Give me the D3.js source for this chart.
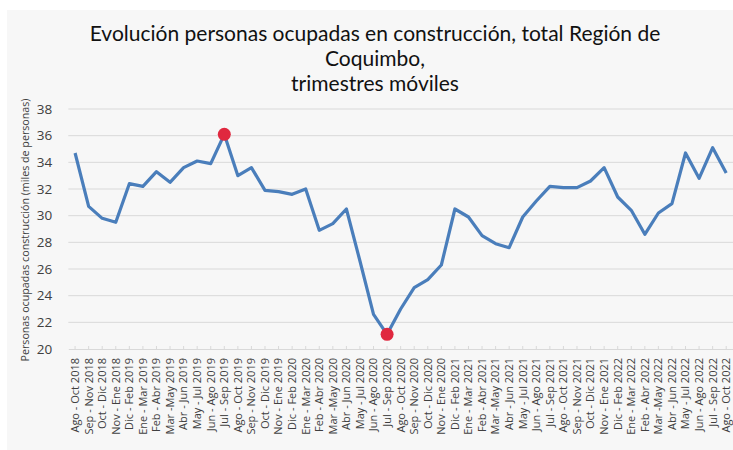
<!DOCTYPE html>
<html>
<head>
<meta charset="utf-8">
<script src="https://cdn.jsdelivr.net/npm/d3@7"></script>
<style>
  body { margin: 0; background: #fff; }
  svg { display: block; }
</style>
</head>
<body>
<svg id="chart" width="733" height="450"></svg>
<script>
// trimestres moviles
var periods = [
    "Ago - Oct 2018", "Sep - Nov 2018", "Oct - Dic 2018", "Nov - Ene 2018",
    "Dic - Feb 2019", "Ene - Mar 2019", "Feb - Abr 2019", "Mar -May 2019",
    "Abr - Jun 2019", "May - Jul 2019", "Jun - Ago 2019", "Jul - Sep 2019",
    "Ago - Oct 2019", "Sep - Nov 2019", "Oct - Dic 2019", "Nov - Ene 2019",
    "Dic - Feb 2020", "Ene - Mar 2020", "Feb - Abr 2020", "Mar -May 2020",
    "Abr - Jun 2020", "May - Jul 2020", "Jun - Ago 2020", "Jul - Sep 2020",
    "Ago - Oct 2020", "Sep - Nov 2020", "Oct - Dic 2020", "Nov - Ene 2020",
    "Dic - Feb 2021", "Ene - Mar 2021", "Feb - Abr 2021", "Mar -May 2021",
    "Abr - Jun 2021", "May - Jul 2021", "Jun - Ago 2021", "Jul - Sep 2021",
    "Ago - Oct 2021", "Sep - Nov 2021", "Oct - Dic 2021", "Nov - Ene 2021",
    "Dic - Feb 2022", "Ene - Mar 2022", "Feb - Abr 2022", "Mar -May 2022",
    "Abr - Jun 2022", "May - Jul 2022", "Jun - Ago 2022", "Jul - Sep 2022",
    "Ago - Oct 2022"
];

// miles de personas
var ocupados = [
    34.7, 30.7, 29.8, 29.5, 32.4, 32.2, 33.3, 32.5, 33.6, 34.1, 33.9, 36.1,
    33.0, 33.6, 31.9, 31.8, 31.6, 32.0, 28.9, 29.4, 30.5, 26.6, 22.6, 21.1,
    23.0, 24.6, 25.2, 26.3, 30.5, 29.9, 28.5, 27.9, 27.6, 29.9, 31.1, 32.2,
    32.1, 32.1, 32.6, 33.6, 31.4, 30.4, 28.6, 30.2, 30.9, 34.7, 32.8, 35.1,
    33.2
];

// puntos destacados (maximo y minimo)
var highlighted = ["Jul - Sep 2019", "Jul - Sep 2020"];

var yTicks = [20, 22, 24, 26, 28, 30, 32, 34, 36, 38];

var titleLines = [
    "Evolución personas ocupadas en construcción, total Región de",
    "Coquimbo,",
    "trimestres móviles"
];

var yTitle = "Personas ocupadas construcción (miles de personas)";

var svg = d3.select("#chart");
var chart_width = +svg.attr("width");
var chart_height = +svg.attr("height");

var data = periods.map(function (p, i) {
    return { period: p, value: ocupados[i] };
});

// fondo
svg.append("rect")
    .attr("x", 7)
    .attr("y", 10)
    .attr("width", chart_width - 7)
    .attr("height", chart_height - 10)
    .attr("fill", "#f7f7f7");

var x = d3.scaleBand()
    .domain(periods)
    .range([68.3, 733]);

var y = d3.scaleLinear()
    .domain([20, 38])
    .range([349, 109]);

// titulo
svg.append("g")
    .selectAll("text")
    .data(titleLines)
    .enter()
    .append("text")
    .attr("x", 375)
    .attr("y", function (d, i) { return 41 + i * 25; })
    .attr("text-anchor", "middle")
    .attr("font-family", "Lato, 'Open Sans', sans-serif")
    .attr("font-size", "21px")
    .attr("fill", "#111")
    .text(function (d) { return d; });

// grilla
svg.append("g")
    .selectAll("line")
    .data(yTicks.slice(1))
    .enter()
    .append("line")
    .attr("x1", 68.3)
    .attr("x2", chart_width)
    .attr("y1", function (d) { return y(d); })
    .attr("y2", function (d) { return y(d); })
    .attr("stroke", "#d9d9d9")
    .attr("stroke-width", 1);

// eje y
var yAxis = svg.append("g")
    .attr("transform", "translate(68.3,0)")
    .call(d3.axisLeft(y).tickValues(yTicks).tickSize(0).tickPadding(16));
yAxis.select(".domain").remove();
yAxis.selectAll("text")
    .attr("font-family", "'Open Sans', sans-serif")
    .attr("font-size", "13.5px")
    .attr("fill", "#404040");

svg.append("text")
    .attr("transform", "translate(25,230) rotate(-90)")
    .attr("text-anchor", "middle")
    .attr("dy", "0.35em")
    .attr("font-family", "'Open Sans', sans-serif")
    .attr("font-size", "10.7px")
    .attr("fill", "#404040")
    .text(yTitle);

// eje x
var xAxis = svg.append("g")
    .attr("transform", "translate(0," + y(20) + ")")
    .call(d3.axisBottom(x).tickSize(-3).tickSizeOuter(0).tickPadding(0));
xAxis.select(".domain")
    .attr("stroke", "#d9d9d9");
xAxis.selectAll(".tick line")
    .attr("stroke", "#d9d9d9");
xAxis.selectAll("text")
    .attr("font-family", "'Open Sans', sans-serif")
    .attr("font-size", "11px")
    .attr("fill", "#404040")
    .attr("text-anchor", "end")
    .attr("transform", "rotate(-90)")
    .attr("x", -9)
    .attr("y", 0)
    .attr("dy", "0.35em");

// linea
var line = d3.line()
    .x(function (d) { return x(d.period) + x.bandwidth() / 2; })
    .y(function (d) { return y(d.value); });

svg.append("path")
    .datum(data)
    .attr("d", line)
    .attr("fill", "none")
    .attr("stroke", "#4a7ebb")
    .attr("stroke-width", 3.2)
    .attr("stroke-linejoin", "round");

svg.append("g")
    .selectAll("circle")
    .data(data.filter(function (d) { return highlighted.indexOf(d.period) >= 0; }))
    .enter()
    .append("circle")
    .attr("cx", function (d) { return x(d.period) + x.bandwidth() / 2; })
    .attr("cy", function (d) { return y(d.value); })
    .attr("r", 6.5)
    .attr("fill", "#e0283f");
</script>
</body>
</html>
